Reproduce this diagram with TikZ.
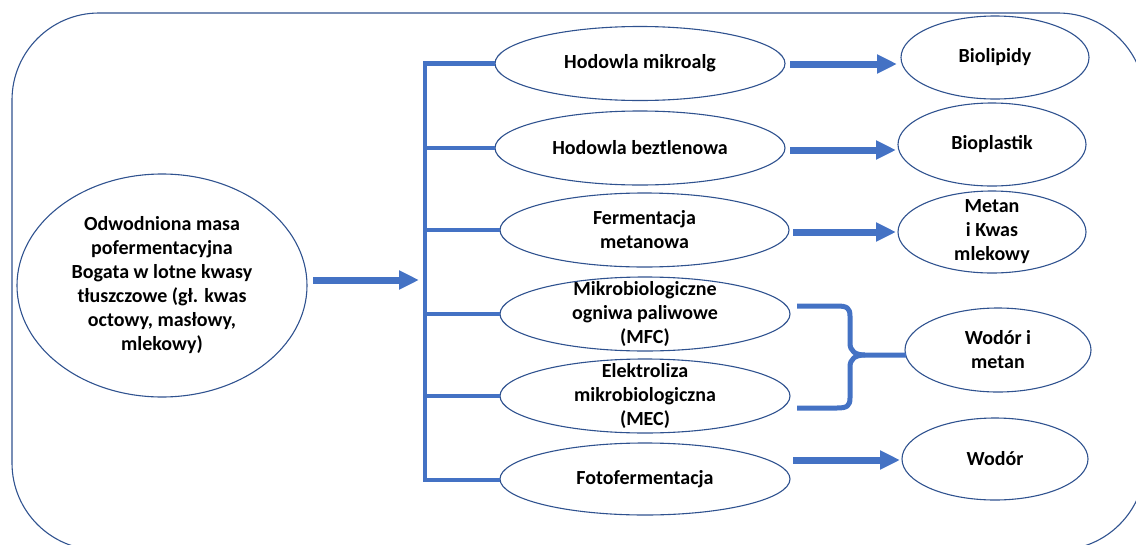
\documentclass[tikz,border=0pt]{standalone}
\usepackage{fontspec}
\setmainfont{Carlito}
\usetikzlibrary{shapes.geometric,arrows.meta,calc}
\definecolor{ellc}{HTML}{2F528F}
\definecolor{conn}{HTML}{4472C4}
\tikzset{
  ell/.style 2 args={ellipse, draw=ellc, line width=1.1pt, minimum width=#1, minimum height=#2, inner sep=0pt, outer sep=0pt},
  txt/.style={align=center, font=\fontsize{20}{24}\selectfont\bfseries, text=black, inner sep=0pt},
  barline/.style={draw=conn, line width=4.5pt},
  arr/.style={draw=conn, line width=7pt, -{Triangle[length=20pt,width=18pt]}},
  bracestyle/.style={draw=conn, line width=5pt, line join=round},
}
\begin{document}
\begin{tikzpicture}[x=1pt,y=-1pt]
\useasboundingbox (0,0) rectangle (1136,544);
\draw[draw=ellc, line width=1.1pt, rounded corners=87pt] (12,13) rectangle (1145,550);

\node[ell={290pt}{223pt}, label={[txt]center:{Odwodniona masa\\pofermentacyjna\\Bogata w lotne kwasy\\tłuszczowe (gł. kwas\\octowy, masłowy,\\mlekowy)}}] (L) at (162,285.5) {};

\node[ell={290pt}{74pt}, label={[txt]center:Hodowla mikroalg}] (m1) at (640,63.5) {};
\node[ell={290pt}{74pt}, label={[txt]center:Hodowla beztlenowa}] (m2) at (640,148) {};
\node[ell={289pt}{74pt}, label={[txt]center:{Fermentacja\\metanowa}}] (m3) at (644.5,230) {};
\node[ell={290pt}{74pt}, label={[txt]center:{Mikrobiologiczne\\ogniwa paliwowe\\(MFC)}}] (m4) at (645,314) {};
\node[ell={290pt}{74pt}, label={[txt]center:{Elektroliza\\mikrobiologiczna\\(MEC)}}] (m5) at (645,396) {};
\node[ell={290pt}{72pt}, label={[txt]center:Fotofermentacja}] (m6) at (645,479) {};

\node[ell={188pt}{83pt}, label={[txt]center:Biolipidy}] (r1) at (995,57.5) {};
\node[ell={188pt}{83pt}, label={[txt]center:Bioplastik}] (r2) at (992,144.5) {};
\node[ell={188pt}{82pt}, label={[txt]center:{Metan\\i Kwas\\mlekowy}}] (r3) at (992,232) {};
\node[ell={186pt}{84pt}, label={[txt]center:{Wodór i\\metan}}] (r4) at (998,350) {};
\node[ell={186pt}{82pt}, label={[txt]center:Wodór}] (r5) at (995,459) {};

\coordinate (bx) at (425,0);
% main input arrow
\draw[arr] ($(L.east)+(6,-5.5)$) -- ($(L.east -| bx)+(-6,-5.5)$);
% vertical bar with branches
\draw[barline, line join=miter] (m1.west) -- (m1.west -| bx) -- ($(m6.west -| bx)+(0,1)$) -- ($(m6.west)+(0,1)$);
\draw[barline] (m2.west -| bx) -- (m2.west);
\draw[barline] (m3.west -| bx) -- (m3.west);
\draw[barline] (m4.west -| bx) -- (m4.west);
\draw[barline] (m5.west -| bx) -- (m5.west);
% output arrows
\draw[arr] ($(m1.east)+(5,0.5)$) -- ($(m1.east -| r1.west)+(-4,0.5)$);
\draw[arr] ($(m2.east)+(5,2)$) -- ($(m2.east -| r2.west)+(-2,2)$);
\draw[arr] ($(m3.east)+(4,2)$) -- ($(m3.east -| r3.west)+(-2,2)$);
\draw[arr] ($(m6.east |- r5.west)+(3,1)$) -- ($(r5.west)+(-2,1)$);
% brace joining MFC and MEC
\draw[bracestyle] ($(m4.east)+(7,-8)$) -- ++(40,0) .. controls +(10,0) and +(0,-8) .. ++(13,10)
  -- ($(r4.west)+(-55,-7)$) .. controls +(0,8) and +(-10,0) .. ($(r4.west)+(-40,5)$) -- ($(r4.west)+(1,5)$);
\draw[bracestyle] ($(m5.east)+(7,12)$) -- ++(40,0) .. controls +(10,0) and +(0,8) .. ++(13,-10)
  -- ($(r4.west)+(-55,17)$) .. controls +(0,-8) and +(-10,0) .. ($(r4.west)+(-40,5)$);
\end{tikzpicture}
\end{document}
